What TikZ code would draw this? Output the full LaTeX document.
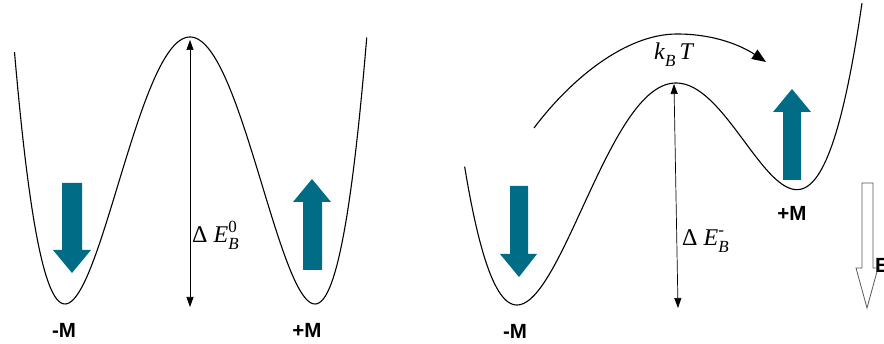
\documentclass[tikz,border=0pt]{standalone}
\usepackage{fontspec}
\setsansfont{Liberation Sans}
\newfontfamily\lserif{Liberation Serif}
\usetikzlibrary{arrows.meta}
\definecolor{spin}{RGB}{0,108,133}
\newcommand\scr[1]{{\lserif\fontsize{17}{17}\selectfont #1}}
\newcommand\elbl[3]{{#1}\rlap{\raisebox{-7pt}{\scr{\itshape #2}}}\raisebox{10pt}{\scr{#3}}}
\begin{document}
\begin{tikzpicture}[x=1pt,y=-1pt,
  well/.style={line width=1.1pt, black},
  barrier/.style={line width=0.7pt, {Triangle[length=10pt,width=7pt]}-{Triangle[length=10pt,width=7pt]}},
  mlabel/.style={font=\sffamily\bfseries\fontsize{20.5}{20.5}\selectfont, inner sep=0},
  elabel/.style={font=\lserif\fontsize{24}{24}\selectfont, inner sep=0, anchor=base west},
  spinarrow/.style={fill=spin, draw=none},
  fieldarrow/.style={draw=black!65, line width=0.8pt, fill=white}]
\useasboundingbox (0,0) rectangle (884,344);

% left symmetric double well
\draw[well] plot[domain=-1.404:1.416, samples=200, variable=\u]
  ({190+125*\u},{304-267*((\u*\u-1)*(\u*\u-1))});

% right tilted double well
\draw[well] plot[domain=-1.415:1.4152, samples=200, variable=\u]
  ({663.3+140.4*\u},{305-160.4*(((\u*\u-1)*(\u*\u-1))+0.36*\u+0.3677)});

% barrier arrows
\coordinate (top0) at (190,40);
\coordinate (bot0) at (190,307);
\draw[barrier] (bot0) -- (top0);
\coordinate (top1) at (674,84);
\coordinate (bot1) at (678,308);
\draw[barrier] (bot1) -- (top1);

\node[elabel] (e0) at (192,243) {\elbl{Δ \textit{E}}{B}{0}};
\node[elabel] (e1) at (682,246) {\elbl{Δ \textit{E}}{B}{-}};

% thermal arc
\coordinate (kstart) at (534,128);
\coordinate (kpeak) at (677,34);
\coordinate (kend) at (766,62);
\draw[line width=1.1pt, -{Triangle[length=14pt,width=11pt]}]
  (kstart) .. controls (570,80) and (625,34) .. (kpeak)
  .. controls (715,34) and (742,46) .. (kend);
\node[elabel] (kbt) at (654,60) {\textit{k}\raisebox{-7pt}{\scr{\itshape B}}\,\textit{T}};

% spin arrows
\fill[spinarrow] (62,183) -- (82,183) -- (82,250) -- (91,250) -- (72,273) -- (53,250) -- (62,250) -- cycle;
\fill[spinarrow] (303,270) -- (322,270) -- (322,202) -- (331,202) -- (312,179) -- (293,202) -- (303,202) -- cycle;
\fill[spinarrow] (510,186) -- (528,186) -- (528,254) -- (537,254) -- (519,277) -- (500,254) -- (510,254) -- cycle;
\fill[spinarrow] (783,180) -- (801,180) -- (801,112) -- (811,112) -- (792,89) -- (773,112) -- (783,112) -- cycle;

% field arrow
\draw[fieldarrow] (862,183) -- (873,183) -- (873,268) -- (878,268) -- (867,308) -- (856,268) -- (862,268) -- cycle;
\node[mlabel, anchor=west] (E) at (875,265) {E};

% labels
\node[mlabel] (m1) at (64,330) {-M};
\node[mlabel] (p1) at (307,330) {+M};
\node[mlabel] (m2) at (515,331) {-M};
\node[mlabel] (p2) at (792,213) {+M};
\end{tikzpicture}
\end{document}
